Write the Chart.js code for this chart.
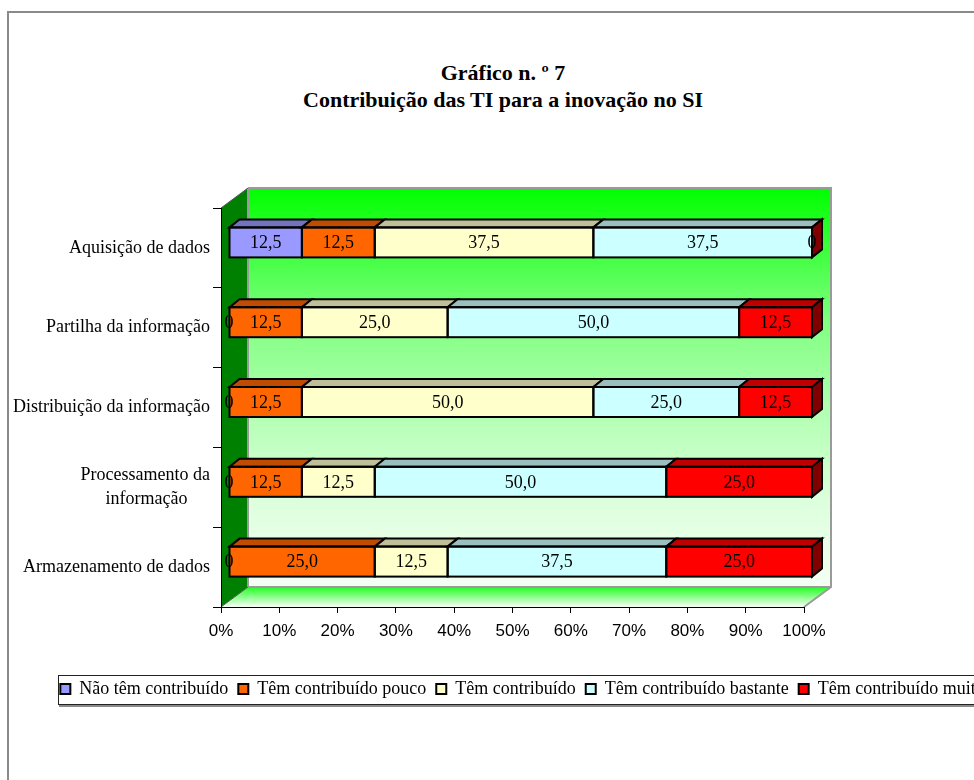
<!DOCTYPE html>
<html>
<head>
<meta charset="utf-8">
<script src="https://cdn.jsdelivr.net/npm/chart.js@4/dist/chart.umd.min.js"></script>
<style>
  body { margin: 0; width: 974px; height: 780px; overflow: hidden; position: relative; background: #fff; }
  #frame { position: absolute; left: 7px; top: 11px; width: 1100px; height: 900px;
           border-left: 2px solid #8a8a8a; border-top: 2px solid #8a8a8a; }
  #title { position: absolute; left: 203px; top: 59px; width: 600px; text-align: center;
           font: bold 22px "Liberation Serif", "Times New Roman", serif; line-height: 27px; color: #000; }
  #wrap { position: absolute; left: 0; top: 0; width: 1045px; height: 780px; }
</style>
</head>
<body>
<div id="frame"></div>
<div id="title">Gráfico n. º 7<br>Contribuição das TI para a inovação no SI</div>
<div id="wrap"><canvas id="chart" width="1045" height="780"></canvas></div>
<script>
// Dados do gráfico
const categories = [
    'Aquisição de dados',
    'Partilha da informação',
    'Distribuição da informação',
    ['Processamento da', 'informação\u00a0\u00a0\u00a0\u00a0\u00a0'],
    'Armazenamento de dados'
];
const seriesNames = ['Não têm contribuído', 'Têm contribuído pouco', 'Têm contribuído', 'Têm contribuído bastante', 'Têm contribuído muito'];
const naoContribuido      = [12.5, 0,    0,    0,    0];
const contribuidoPouco    = [12.5, 12.5, 12.5, 12.5, 25.0];
const contribuido         = [37.5, 25.0, 50.0, 12.5, 12.5];
const contribuidoBastante = [37.5, 50.0, 25.0, 50.0, 37.5];
const contribuidoMuito    = [0,    12.5, 12.5, 25.0, 25.0];
const xTickLabels = ['0%', '10%', '20%', '30%', '40%', '50%', '60%', '70%', '80%', '90%', '100%'];

// Cores (frente, topo, lado)
const fills = ['#9999ff', '#ff6600', '#ffffcc', '#ccffff', '#ff0000'];
const tops  = ['#7373bf', '#bf4c00', '#bfbf99', '#99bfbf', '#bf0000'];
const sides = ['#4d4d80', '#803300', '#808066', '#668080', '#800000'];

const DX = 8, DY = -5.5;     // deslocamento das barras em relação ao plano dos eixos
const BDX = 10, BDY = -8;    // profundidade das barras
const WDX = 27, WDY = -20;   // profundidade das paredes

const serif = '"Liberation Serif", "Times New Roman", serif';
const sans = '"Liberation Sans", Arial, sans-serif';

// Paredes e chão em "3D"
const wallsPlugin = {
    id: 'walls',
    beforeDraw(chart) {
        const { ctx, chartArea: a } = chart;
        const L = a.left, R = a.right, T = a.top, B = a.bottom;
        ctx.save();
        // parede de fundo
        const g = ctx.createLinearGradient(0, T + WDY, 0, B + WDY);
        g.addColorStop(0, '#00ff00');
        g.addColorStop(0.33, '#80ff80');
        g.addColorStop(0.55, '#b0ffb0');
        g.addColorStop(0.78, '#dcffdc');
        g.addColorStop(1, '#f4fff4');
        ctx.fillStyle = g;
        ctx.fillRect(L + WDX, T + WDY, R - L, B - T);
        // parede lateral
        ctx.fillStyle = '#008000';
        ctx.beginPath();
        ctx.moveTo(L, T); ctx.lineTo(L + WDX, T + WDY); ctx.lineTo(L + WDX, B + WDY); ctx.lineTo(L, B);
        ctx.closePath(); ctx.fill();
        // chão
        const f = ctx.createLinearGradient(0, B + WDY, 0, B);
        f.addColorStop(0, '#22ff22');
        f.addColorStop(1, '#f8fff8');
        ctx.fillStyle = f;
        ctx.beginPath();
        ctx.moveTo(L, B); ctx.lineTo(L + WDX, B + WDY); ctx.lineTo(R + WDX, B + WDY); ctx.lineTo(R, B);
        ctx.closePath(); ctx.fill();
        // arestas
        ctx.strokeStyle = '#9a9a9a';
        ctx.lineWidth = 2;
        ctx.beginPath();
        ctx.moveTo(L + WDX, T + WDY); ctx.lineTo(R + WDX, T + WDY); ctx.lineTo(R + WDX, B + WDY); ctx.lineTo(R, B);
        ctx.moveTo(L + WDX, T + WDY); ctx.lineTo(L + WDX, B + WDY); ctx.lineTo(R + WDX, B + WDY);
        ctx.stroke();
        ctx.strokeStyle = '#555';
        ctx.lineWidth = 1;
        ctx.beginPath();
        ctx.moveTo(L, T); ctx.lineTo(L + WDX, T + WDY);
        ctx.moveTo(L, B); ctx.lineTo(L + WDX, B + WDY);
        ctx.stroke();
        ctx.restore();
    }
};

const fmt = v => v === 0 ? '0' : v.toFixed(1).replace('.', ',');

// Faces 3D das barras, contornos e rótulos
const barsPlugin = {
    id: 'bars3d',
    beforeDatasetsDraw(chart) {
        chart.ctx.save();
        chart.ctx.translate(DX, DY);
    },
    afterDatasetsDraw(chart) {
        const ctx = chart.ctx;
        const metas = chart.getSortedVisibleDatasetMetas();
        ctx.lineWidth = 2;
        ctx.strokeStyle = '#000';
        ctx.lineJoin = 'miter';
        const box = bar => {
            const p = bar.getProps(['x', 'y', 'base', 'height'], true);
            return { l: Math.min(p.x, p.base), r: Math.max(p.x, p.base), t: p.y - p.height / 2, b: p.y + p.height / 2, y: p.y };
        };
        metas.forEach(meta => {
            meta.data.forEach(bar => {
                const s = box(bar);
                if (s.r - s.l < 0.5) return;
                ctx.fillStyle = tops[meta.index];
                ctx.beginPath();
                ctx.moveTo(s.l, s.t); ctx.lineTo(s.l + BDX, s.t + BDY); ctx.lineTo(s.r + BDX, s.t + BDY); ctx.lineTo(s.r, s.t);
                ctx.closePath(); ctx.fill(); ctx.stroke();
                ctx.strokeRect(s.l, s.t, s.r - s.l, s.b - s.t);
            });
        });
        const last = metas[metas.length - 1];
        last.data.forEach(bar => {
            const s = box(bar);
            ctx.fillStyle = sides[last.index];
            ctx.beginPath();
            ctx.moveTo(s.r, s.t); ctx.lineTo(s.r + BDX, s.t + BDY); ctx.lineTo(s.r + BDX, s.b + BDY); ctx.lineTo(s.r, s.b);
            ctx.closePath(); ctx.fill(); ctx.stroke();
        });
        ctx.font = '18px ' + serif;
        ctx.fillStyle = '#000';
        ctx.textAlign = 'center';
        ctx.textBaseline = 'middle';
        metas.forEach(meta => {
            const values = chart.data.datasets[meta.index].data;
            meta.data.forEach((bar, j) => {
                const s = box(bar);
                ctx.fillText(fmt(values[j]), (s.l + s.r) / 2, s.y + 1);
            });
        });
        ctx.restore();
    }
};

// Caixa da legenda
const legendBoxPlugin = {
    id: 'legendBox',
    afterDraw(chart) {
        const hb = chart.legend.legendHitBoxes;
        if (!hb.length) return;
        const ctx = chart.ctx;
        const cy = hb[0].top + hb[0].height / 2;
        ctx.save();
        ctx.strokeStyle = '#222';
        ctx.lineWidth = 1;
        ctx.strokeRect(58.5, Math.round(cy - 14) + 0.5, chart.width, 29);
        ctx.strokeStyle = '#8a8a8a';
        ctx.lineWidth = 2;
        ctx.beginPath();
        ctx.moveTo(59, Math.round(cy - 14) + 31); ctx.lineTo(chart.width, Math.round(cy - 14) + 31);
        ctx.stroke();
        ctx.restore();
    }
};

const seriesValues = [naoContribuido, contribuidoPouco, contribuido, contribuidoBastante, contribuidoMuito];

new Chart(document.getElementById('chart'), {
    type: 'bar',
    data: {
        labels: categories,
        datasets: seriesNames.map((name, i) => ({
            label: name,
            data: seriesValues[i],
            backgroundColor: fills[i],
            borderWidth: 0,
            barThickness: 30
        }))
    },
    options: {
        indexAxis: 'y',
        responsive: false,
        animation: false,
        devicePixelRatio: 1,
        layout: { padding: { top: 208, bottom: 72, left: 0, right: 0 } },
        scales: {
            x: {
                stacked: true,
                min: 0, max: 100,
                grid: { drawOnChartArea: false, drawTicks: true, tickLength: 6, color: '#000' },
                border: { display: true, color: '#000', width: 1 },
                ticks: {
                    stepSize: 10,
                    padding: 8,
                    color: '#000',
                    font: { family: sans, size: 17 },
                    callback: (v, i) => xTickLabels[i]
                },
                afterFit: s => { s.height = 63; }
            },
            y: {
                stacked: true,
                grid: { drawOnChartArea: false, drawTicks: true, tickLength: 8, color: '#000' },
                border: { display: true, color: '#000', width: 1 },
                ticks: { padding: 3, color: '#000', autoSkip: false, font: { family: serif, size: 18, lineHeight: 1.3 } },
                afterFit: s => { s.width = 221; }
            },
            yPad: {
                type: 'category',
                position: 'right',
                grid: { display: false, drawTicks: false },
                border: { display: false },
                ticks: { display: false },
                afterFit: s => { s.width = 1045 - 804; }
            }
        },
        plugins: {
            title: { display: false },
            tooltip: { enabled: false },
            legend: {
                position: 'bottom',
                labels: {
                    boxWidth: 10,
                    boxHeight: 10,
                    padding: 10,
                    color: '#000',
                    font: { family: serif, size: 18 },
                    generateLabels(chart) {
                        const items = Chart.defaults.plugins.legend.labels.generateLabels(chart);
                        items.forEach(it => { it.lineWidth = 2; it.strokeStyle = '#000'; });
                        return items;
                    }
                }
            }
        }
    },
    plugins: [wallsPlugin, barsPlugin, legendBoxPlugin]
});
</script>
</body>
</html>
